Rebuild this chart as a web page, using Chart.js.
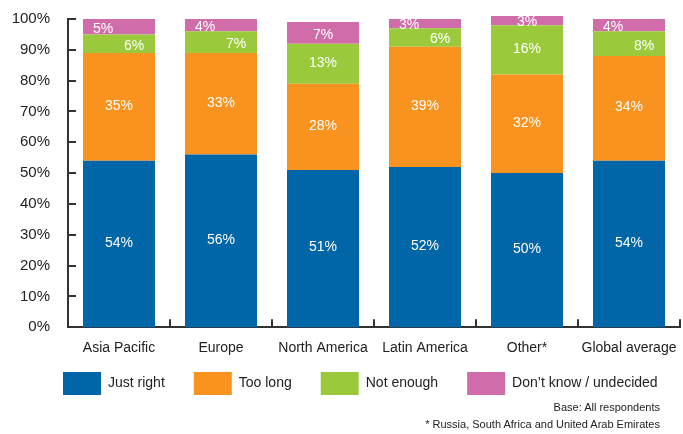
<!DOCTYPE html>
<html><head><meta charset="utf-8">
<script src="https://cdn.jsdelivr.net/npm/chart.js@4.4.1/dist/chart.umd.min.js"></script>
<style>
html,body{margin:0;padding:0;background:#fff;}
#wrap{position:relative;width:683px;height:434px;}
.note{position:absolute;right:23px;font:11px "Liberation Sans",Arial,sans-serif;color:#222;white-space:nowrap;}
</style></head><body>
<div id="wrap"><canvas id="c" width="683" height="434"></canvas>
<div class="note" style="top:401px">Base: All respondents</div>
<div class="note" style="top:418px">* Russia, South Africa and United Arab Emirates</div>
</div>
<script>
const categories = ['Asia Pacific','Europe','North America','Latin America','Other*','Global average'];
const justRight = [54,56,51,52,50,54];
const tooLong   = [35,33,28,39,32,34];
const notEnough = [6,7,13,6,16,8];
const dontKnow  = [5,4,7,3,3,4];
const seriesNames = ['Just right','Too long','Not enough','Don\u2019t know / undecided'];

const FONT = '"Liberation Sans", Arial, sans-serif';
const COLORS = ['#0066A8','#F7931E','#9ACA3C','#D06CAA'];

const inwardTicks = {
  id:'inwardTicks',
  afterDraw(chart){
    const {ctx, scales:{x,y}} = chart;
    ctx.save(); ctx.strokeStyle='#333'; ctx.lineWidth=2;
    ctx.beginPath();
    y.ticks.forEach(t=>{ const py=Math.round(y.getPixelForValue(t.value)); ctx.moveTo(x.left, py); ctx.lineTo(x.left+8, py); });
    for (let i=0;i<categories.length;i++){
      const px = i<categories.length-1 ? Math.round((x.getPixelForValue(i)+x.getPixelForValue(i+1))/2) : x.right;
      ctx.moveTo(px, y.bottom); ctx.lineTo(px, y.bottom-8);
    }
    ctx.stroke(); ctx.restore();
  }
};

const segLabels = {
  id:'segLabels',
  afterDatasetsDraw(chart){
    const ctx=chart.ctx; ctx.save(); ctx.fillStyle='#fff'; ctx.font='14px '+FONT; ctx.textAlign='center'; ctx.textBaseline='middle';
    chart.data.datasets.forEach((ds,di)=>{
      const meta=chart.getDatasetMeta(di);
      meta.data.forEach((bar,i)=>{
        const v=ds.data[i];
        let dx=0;
        const crowded = notEnough[i]<=8 && dontKnow[i]<=5;
        if (crowded && di===3) dx=-16;
        if (crowded && di===2) dx=15;
        const dy = v<=8 ? 2 : -1;
        ctx.fillText(v+'%', bar.x+dx, (bar.y+bar.base)/2+dy);
      });
    });
    ctx.restore();
  }
};

const legendShift = {
  id:'legendShift',
  afterLayout(chart){
    const lg=chart.legend; if(!lg||!lg.lineWidths) return;
    const pad=lg.options.labels.padding;
    const x0=(lg.left+pad+lg.right-lg.lineWidths[0])/2;
    const dx=63-x0; lg.left+=dx; lg.right+=dx;
    const dy=(372-pad)-lg.top; lg.top+=dy; lg.bottom+=dy;
  }
};

const seriesData = [justRight, tooLong, notEnough, dontKnow];
new Chart(document.getElementById('c'), {
  type:'bar',
  data:{
    labels:categories,
    datasets: seriesData.map((d,i)=>({label:seriesNames[i], data:d, backgroundColor:COLORS[i], borderWidth:0, barPercentage:0.706, categoryPercentage:1, clip:false}))
  },
  options:{
    responsive:false, animation:false,
    layout:{padding:{left:12,right:3,top:19,bottom:2}},
    plugins:{
      legend:{position:'bottom', labels:{boxWidth:38, boxHeight:23, padding:29, color:'#222', font:{size:14,family:FONT}}},
      tooltip:{enabled:false}
    },
    scales:{
      x:{stacked:true, grid:{display:false, drawTicks:false}, border:{display:true,color:'#333',width:2},
         ticks:{padding:13, color:'#222', font:{size:14,family:FONT}, maxRotation:0, autoSkip:false},
         afterFit(s){ s.paddingLeft=0; s.paddingRight=0; }},
      y:{stacked:true, min:0, max:100, grid:{display:false, drawTicks:false}, border:{display:true,color:'#333',width:2},
         ticks:{stepSize:10, padding:18, color:'#222', font:{size:15,family:FONT}, callback:v=>v+'%'},
         afterFit(s){ s.width=56; s.paddingTop=0; s.paddingBottom=0; }}
    }
  },
  plugins:[inwardTicks, segLabels, legendShift]
});
</script>
</body></html>
